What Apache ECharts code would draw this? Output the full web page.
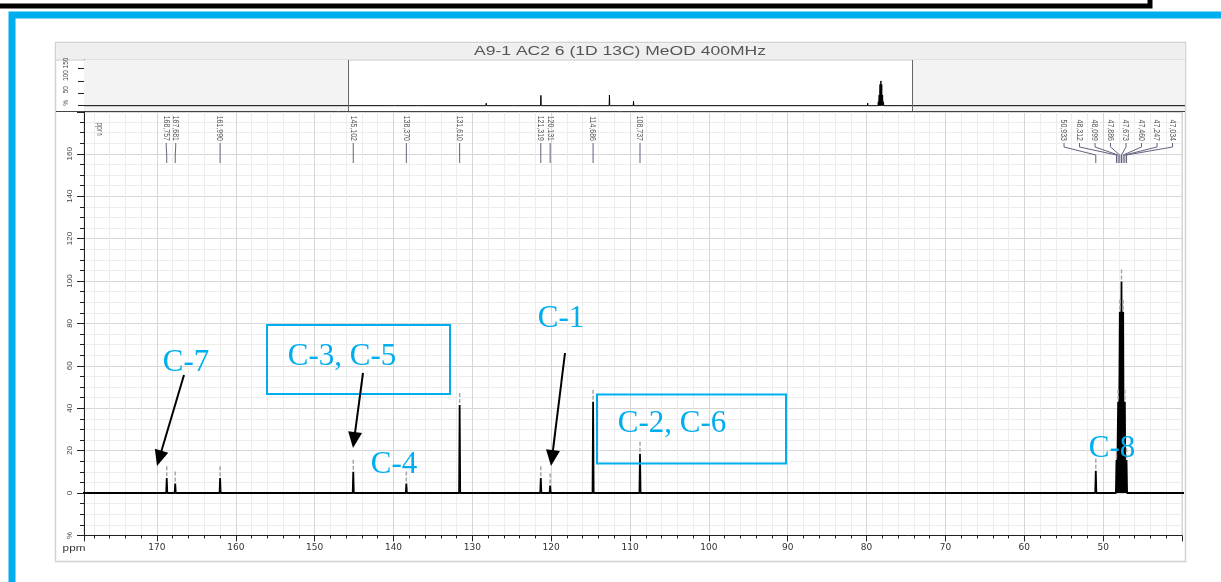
<!DOCTYPE html>
<html><head><meta charset="utf-8">
<script src="https://cdn.jsdelivr.net/npm/echarts@6/dist/echarts.min.js"></script>
<style>html,body{margin:0;padding:0;background:#fff}#c{width:1221px;height:582px}</style>
</head><body><div id="c"></div>
<script>
// ---- data ----
const peakPpm = [168.757, 167.681, 161.990, 145.102, 138.370, 131.610, 121.319, 120.131, 114.686, 108.737, 50.933, 48.312, 48.099, 47.886, 47.673, 47.460, 47.247, 47.034];
const peakHeight = [7, 4.5, 7, 10, 4.5, 41.5, 7, 3.5, 43, 18.5, 10.5, 15.5, 43, 85.5, 99.7, 85.5, 43, 15.5];
const peakLabels = ['168,757','167,681','161,990','145,102','138,370','131,610','121,319','120,131','114,686','108,737','50,933','48,312','48,099','47,886','47,673','47,460','47,247','47,034'];
const overviewTicks = [0, 50, 100, 150];
const annotationTexts = ['C-7', 'C-3, C-5', 'C-4', 'C-1', 'C-2, C-6', 'C-8'];
const titleText = 'A9-1 AC2 6 (1D 13C) MeOD 400MHz';

// axis ranges
const spectrumStart = 244.4, spectrumEnd = -27.4;   // full sweep shown in overview
const mainMax = 179.25, mainMin = 40;              // zoomed window

// spectrum polyline built from the peak list (flat baseline between peaks)
const spectrum = [[spectrumStart, 0]];
peakPpm.forEach((p, i) => { spectrum.push([p + 0.07, 0], [p, peakHeight[i]], [p - 0.07, 0]); });
spectrum.push([spectrumEnd, 0]);

// ---- label layout (spread overlapping labels) ----
function gapFor(n) { return n <= 2 ? 9.5 : 15.5; }
function layoutLabels(xs) {
  let cl = xs.map((x, i) => ({ idx: [i], c: x }));
  let changed = true;
  while (changed) {
    changed = false;
    for (let k = 0; k < cl.length - 1; k++) {
      const a = cl[k], b = cl[k + 1];
      const aR = a.c + (a.idx.length - 1) * gapFor(a.idx.length) / 2;
      const bL = b.c - (b.idx.length - 1) * gapFor(b.idx.length) / 2;
      if (bL - aR < 9) {
        const idx = a.idx.concat(b.idx);
        const c = idx.reduce((s, i) => s + xs[i], 0) / idx.length;
        cl.splice(k, 2, { idx, c });
        changed = true; break;
      }
    }
  }
  const pos = [];
  cl.forEach(c => {
    const g = c.idx.length === 1 ? 0 : gapFor(c.idx.length);
    c.idx.forEach((i, j) => { pos[i] = c.c + (j - (c.idx.length - 1) / 2) * g; });
  });
  return pos;
}
let labelCache = null;
function labelGeom(api) {
  const xs = peakPpm.map(p => api.coord([p, 0])[0]);
  const key = xs.map(v => v.toFixed(2)).join(',');
  if (!labelCache || labelCache.key !== key) labelCache = { key, pos: layoutLabels(xs) };
  return { xs, pos: labelCache.pos };
}

// ---- annotation overlay ----
const CYAN = '#00aeef';
const serif = '31px "Liberation Serif", "Times New Roman", serif';
function annText(t, x, y) {
  return { type: 'text', x, y, z: 100, style: { text: t, font: serif, fill: CYAN, align: 'center', verticalAlign: 'middle', textAlign: 'center', textVerticalAlign: 'middle' } };
}
function arrow(x1, y1, x2, y2) {
  const dx = x2 - x1, dy = y2 - y1, L = Math.hypot(dx, dy), ux = dx / L, uy = dy / L;
  const hl = 16, hw = 7;
  const bx = x2 - ux * hl, by = y2 - uy * hl;
  return [
    { type: 'line', z: 100, shape: { x1, y1, x2: bx + ux * 2, y2: by + uy * 2 }, style: { stroke: '#000', lineWidth: 2 } },
    { type: 'polygon', z: 100, shape: { points: [[x2, y2], [bx - uy * hw, by + ux * hw], [bx + uy * hw, by - ux * hw]] }, style: { fill: '#000' } }
  ];
}

const graphics = [
  { type: 'rect', shape: { x: -10, y: -10, width: 1160, height: 16 }, style: { fill: 'none', stroke: '#000', lineWidth: 5 } },
  { type: 'rect', shape: { x: 12, y: 15, width: 1240, height: 620 }, style: { fill: 'none', stroke: CYAN, lineWidth: 7 } },
  { type: 'rect', shape: { x: 55.5, y: 42.5, width: 1130, height: 519 }, style: { fill: 'none', stroke: '#d2d2d2', lineWidth: 1.5 } },
  { type: 'rect', shape: { x: 56.5, y: 43.5, width: 1128, height: 16 }, style: { fill: '#efefef', stroke: 'none' } },
  { type: 'line', shape: { x1: 56, y1: 60, x2: 1185, y2: 60 }, style: { stroke: '#c8c8c8', lineWidth: 1 } },
  { type: 'line', shape: { x1: 56, y1: 111.5, x2: 1185, y2: 111.5 }, style: { stroke: '#444', lineWidth: 1 } },
  { type: 'text', x: 620, y: 51.5, scaleX: 1.4, style: { text: titleText, font: '12.5px "Liberation Sans", Arial, sans-serif', fill: '#555', align: 'center', verticalAlign: 'middle', textAlign: 'center', textVerticalAlign: 'middle' } },
  { type: 'text', x: 100, y: 129, rotation: -Math.PI / 2, scaleY: 1.35, style: { text: 'ppm', font: '7px "Liberation Sans", Arial, sans-serif', fill: '#555', align: 'center', verticalAlign: 'middle', textAlign: 'center', textVerticalAlign: 'middle' } },
  { type: 'text', x: 74, y: 549, scaleX: 1.3, style: { text: 'ppm', font: '9px "Liberation Sans", Arial, sans-serif', fill: '#333', align: 'center', verticalAlign: 'middle', textAlign: 'center', textVerticalAlign: 'middle' } },
  // annotations
  annText(annotationTexts[0], 186, 363),
  { type: 'rect', z: 100, shape: { x: 267, y: 325, width: 183, height: 69 }, style: { fill: 'none', stroke: CYAN, lineWidth: 2 } },
  annText(annotationTexts[1], 342, 357),
  annText(annotationTexts[2], 394, 465),
  annText(annotationTexts[3], 561, 319),
  { type: 'rect', z: 100, shape: { x: 597, y: 394.5, width: 189, height: 69 }, style: { fill: 'none', stroke: CYAN, lineWidth: 2 } },
  annText(annotationTexts[4], 672, 424),
  annText(annotationTexts[5], 1112, 449),
  ...arrow(184, 375, 157, 466),
  ...arrow(363, 373, 353, 448),
  ...arrow(565, 353, 551, 466)
];

const axisFont = '"Liberation Sans", Arial, sans-serif';
const option = {
  backgroundColor: '#fff',
  animation: false,
  grid: [
    { left: 84, right: 36, top: 60, height: 51, show: false },
    { left: 84, right: 39, top: 112, bottom: 46.6, show: true, borderColor: '#cfcfcf', borderWidth: 1, backgroundColor: 'transparent' }
  ],
  xAxis: [
    { gridIndex: 0, type: 'value', min: spectrumEnd, max: spectrumStart, inverse: true, show: false, splitLine: { show: false } },
    {
      gridIndex: 1, type: 'value', min: mainMin, max: mainMax, inverse: true, interval: 10,
      axisLine: { show: true, onZero: false, lineStyle: { color: '#222', width: 1 } },
      axisTick: { show: true, length: 6, lineStyle: { color: '#222' } },
      minorTick: { show: true, splitNumber: 5, length: 3, lineStyle: { color: '#222' } },
      axisLabel: { showMinLabel: false, showMaxLabel: false, margin: 8, fontSize: 9, fontFamily: '"DejaVu Sans", sans-serif', color: '#333',
        formatter: v => (v % 10 === 0 && v > mainMin) ? String(v) : '' },
      splitLine: { show: true, lineStyle: { color: '#d6d6d6', width: 1 } },
      minorSplitLine: { show: true, lineStyle: { color: '#ededed', width: 1 } }
    }
  ],
  yAxis: [
    {
      gridIndex: 0, type: 'value', min: -21.4, max: 184,
      axisLine: { show: true, onZero: false, lineStyle: { color: '#222' } },
      axisTick: { show: true, length: 6, customValues: overviewTicks, lineStyle: { color: '#222' } },
      axisLabel: { customValues: overviewTicks, rotate: 90, margin: 14, fontSize: 6.5, fontFamily: axisFont, color: '#444', align: 'left', verticalAlign: 'bottom', formatter: v => v === 0 ? '%' : String(v) },
      splitLine: { show: false }
    },
    {
      gridIndex: 1, type: 'value', min: -20, max: 179.7, interval: 20,
      axisLine: { show: true, onZero: false, lineStyle: { color: '#222' } },
      axisTick: { show: true, length: 7, lineStyle: { color: '#222' } },
      minorTick: { show: true, splitNumber: 4, length: 4, lineStyle: { color: '#222' } },
      axisLabel: { showMaxLabel: false, rotate: 90, margin: 10, fontSize: 8, fontFamily: axisFont, color: '#444', align: 'center', verticalAlign: 'bottom',
        formatter: v => v === -20 ? '%' : (v % 20 === 0 && v < 170 ? String(v) : '') },
      splitLine: { show: true, lineStyle: { color: '#d6d6d6' } },
      minorSplitLine: { show: true, lineStyle: { color: '#ededed' } }
    }
  ],
  series: [
    { // overview shading + window markers
      type: 'line', xAxisIndex: 0, yAxisIndex: 0, data: [], z: 1, silent: true,
      markArea: { silent: true, itemStyle: { color: '#f3f3f3' }, data: [[{ xAxis: spectrumStart }, { xAxis: mainMax }], [{ xAxis: mainMin }, { xAxis: spectrumEnd }]] },
      markLine: { silent: true, symbol: ['none', 'none'], label: { show: false }, lineStyle: { color: '#666', type: 'solid', width: 1 }, data: [{ xAxis: mainMax }, { xAxis: mainMin }] }
    },
    { // overview spectrum
      type: 'line', xAxisIndex: 0, yAxisIndex: 0, data: spectrum, z: 3, silent: true,
      symbol: 'none', lineStyle: { color: '#000', width: 1 }
    },
    { // main spectrum
      type: 'line', xAxisIndex: 1, yAxisIndex: 1, data: spectrum, z: 3, silent: true, clip: true,
      symbol: 'none', lineStyle: { color: '#000', width: 1.8 }, areaStyle: { color: '#000', opacity: 1 }
    },
    { // peak-pick markers (gray dashes)
      type: 'custom', xAxisIndex: 1, yAxisIndex: 1, z: 4, silent: true,
      data: peakPpm.map((p, i) => [p, peakHeight[i]]),
      encode: { x: 0, y: 1 },
      renderItem: (params, api) => {
        const pt = api.coord([api.value(0), api.value(1)]);
        return { type: 'line', shape: { x1: pt[0], y1: pt[1] - 2, x2: pt[0], y2: pt[1] - 12 }, style: { stroke: '#a8a8a8', lineWidth: 1.5, lineDash: [4, 2], fill: 'none' } };
      }
    },
    { // peak labels with leader lines
      type: 'custom', xAxisIndex: 1, yAxisIndex: 1, z: 4, silent: true,
      data: peakPpm.map((p, i) => [p, peakHeight[i]]),
      encode: { x: 0, y: 1 },
      renderItem: (params, api) => {
        const i = params.dataIndex;
        const g = labelGeom(api);
        const top = params.coordSys.y;
        const px = g.xs[i], lx = g.pos[i];
        return {
          type: 'group', children: [
            { type: 'text', x: lx, y: top + 29, rotation: -Math.PI / 2, scaleY: 1.35,
              style: { text: peakLabels[i], font: '7px "Liberation Sans", Arial, sans-serif', fill: '#555', align: 'right', verticalAlign: 'middle', textAlign: 'right', textVerticalAlign: 'middle' } },
            { type: 'polyline', shape: { points: [[lx, top + 31], [lx, top + 35], [px, top + 43], [px, top + 51]] },
              style: { stroke: '#62627e', lineWidth: 1, fill: 'none' } }
          ]
        };
      }
    }
  ],
  graphic: graphics
};
const chart = echarts.init(document.getElementById('c'), null, { renderer: 'canvas' });
chart.setOption(option);
</script>
</body></html>
